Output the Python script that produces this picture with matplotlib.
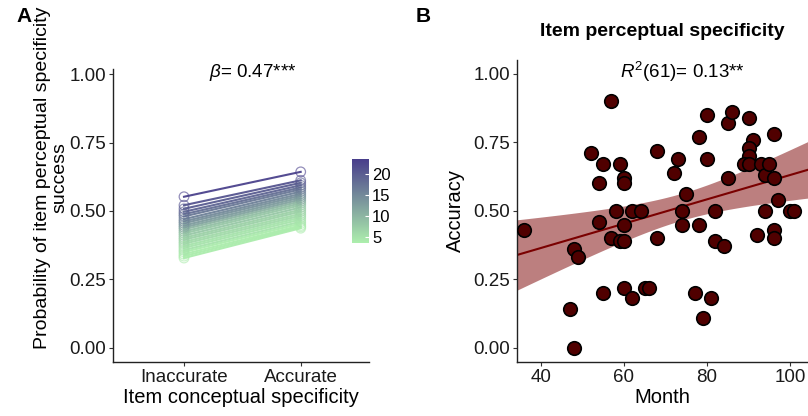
import numpy as np
import matplotlib
matplotlib.use('Agg')
import matplotlib.pyplot as plt
from matplotlib.colors import LinearSegmentedColormap, Normalize
from matplotlib.cm import ScalarMappable

plt.rcParams['font.family'] = ['Liberation Sans', 'DejaVu Sans']
plt.rcParams['mathtext.fontset'] = 'custom'
plt.rcParams['mathtext.rm'] = 'Liberation Sans'
plt.rcParams['mathtext.it'] = 'Liberation Sans:italic'

# --- panel A: predicted success per child, coloured by n ---
cond_labels = ['Inaccurate', 'Accurate']
p_inacc = [0.552, 0.521, 0.508, 0.497, 0.488, 0.480, 0.470, 0.462, 0.455,
           0.447, 0.440, 0.433, 0.425, 0.418, 0.410, 0.402, 0.395, 0.387,
           0.380, 0.372, 0.365, 0.357, 0.350, 0.342, 0.335, 0.328]
p_acc = [0.643, 0.612, 0.603, 0.594, 0.586, 0.579, 0.571, 0.563, 0.556,
         0.549, 0.542, 0.535, 0.528, 0.521, 0.513, 0.505, 0.498, 0.490,
         0.483, 0.476, 0.469, 0.461, 0.454, 0.447, 0.442, 0.437]
n_val = [23, 21, 20, 19, 18, 17, 16, 15, 14, 13, 12, 10, 9, 8, 8, 7, 7,
         6, 6, 5, 5, 5, 4, 4, 4, 4]

# --- panel B: accuracy by age ---
month = [36, 47, 48, 48, 49, 52, 54, 54, 55, 55, 57, 57, 58, 59, 59, 60, 60,
         60, 60, 60, 62, 62, 64, 65, 66, 68, 68, 72, 73, 74, 74, 75, 77, 78,
         78, 79, 80, 80, 81, 82, 82, 84, 85, 85, 86, 90, 91, 90, 90, 89, 90,
         92, 93, 94, 94, 95, 96, 96, 96, 96, 97, 100, 101]
accuracy = [0.43, 0.14, 0.00, 0.36, 0.33, 0.71, 0.60, 0.46, 0.67, 0.20, 0.90,
            0.40, 0.50, 0.67, 0.39, 0.62, 0.60, 0.45, 0.39, 0.22, 0.50, 0.18,
            0.50, 0.22, 0.22, 0.72, 0.40, 0.64, 0.69, 0.50, 0.45, 0.56, 0.20,
            0.77, 0.45, 0.11, 0.85, 0.69, 0.18, 0.50, 0.39, 0.37, 0.62, 0.82,
            0.86, 0.84, 0.76, 0.73, 0.70, 0.67, 0.67, 0.41, 0.67, 0.63, 0.50,
            0.67, 0.62, 0.78, 0.43, 0.40, 0.54, 0.50, 0.50]

W, H = 808, 416
fig = plt.figure(figsize=(W / 100, H / 100), dpi=100)

def box(x0, y0, x1, y1):
    return [x0 / W, 1 - y1 / H, (x1 - x0) / W, (y1 - y0) / H]

def style(ax):
    for s in ['top', 'right']:
        ax.spines[s].set_visible(False)
    for s in ['left', 'bottom']:
        ax.spines[s].set_linewidth(1.0)
        ax.spines[s].set_color('#222222')
    ax.tick_params(length=3, width=0.8, color='#333333', labelsize=13.5,
                   labelcolor='#1a1a1a', pad=2)

# panel A
cmap = LinearSegmentedColormap.from_list('grn_pur', ['#ADEFAD', '#483D8B'])
norm = Normalize(3.6, 23.6)
axA = fig.add_axes(box(113.3, 69, 369.3, 361.7))
order = np.argsort(n_val)
for i in order:
    c = cmap(norm(n_val[i]))
    axA.plot([1, 2], [p_inacc[i], p_acc[i]], color=c, lw=1.5, alpha=0.95,
             zorder=2)
    axA.scatter([1, 2], [p_inacc[i], p_acc[i]], s=48, facecolors='none',
                edgecolors=[c], linewidths=0.9, alpha=0.6, zorder=3)
axA.set_xlim(0.394, 2.588)
axA.set_ylim(-0.051, 1.019)
axA.set_xticks([1, 2])
axA.set_xticklabels(cond_labels)
axA.set_yticks([0, 0.25, 0.5, 0.75, 1.0])
axA.set_yticklabels(['0.00', '0.25', '0.50', '0.75', '1.00'])
style(axA)
axA.set_xlabel('Item conceptual specificity', fontsize=14.5, labelpad=2)
axA.text(1.59, 1.008, r'$\beta$= 0.47***', ha='center', va='center',
         fontsize=13.5)

cax = fig.add_axes(box(351.7, 159, 369.3, 243.3))
cb = fig.colorbar(ScalarMappable(norm=norm, cmap=cmap), cax=cax)
cb.outline.set_visible(False)
cb.set_ticks([5, 10, 15, 20])
cax.tick_params(length=3, width=0.8, color='white', direction='in',
                labelsize=12, pad=2)

fig.text(51 / W, 1 - 178 / H, 'Probability of item perceptual specificity\nsuccess',
         rotation=90, ha='center', va='center', multialignment='center',
         fontsize=14, linespacing=1.05)

# panel B
axB = fig.add_axes(box(516.7, 60, 808, 361.7))
x = np.array(month, float)
y = np.array(accuracy, float)
b1, b0 = np.polyfit(x, y, 1)
xs = np.linspace(34.2, 104.3, 200)
resid = y - (b0 + b1 * x)
s = np.sqrt((resid ** 2).sum() / (len(x) - 2))
se = s * np.sqrt(1 / len(x) + (xs - x.mean()) ** 2 / ((x - x.mean()) ** 2).sum())
fit = b0 + b1 * xs
axB.fill_between(xs, fit - 2.0 * se, fit + 2.0 * se, color='#7A0000',
                 alpha=0.5, lw=0, zorder=1)
axB.plot(xs, fit, color='#7A0000', lw=1.5, zorder=2)
axB.scatter(month, accuracy, s=95, facecolor='#500000', edgecolor='black',
            linewidths=1.2, zorder=3)
axB.set_xlim(34.2, 104.3)
axB.set_ylim(-0.051, 1.051)
axB.set_xticks([40, 60, 80, 100])
axB.set_yticks([0, 0.25, 0.5, 0.75, 1.0])
axB.set_yticklabels(['0.00', '0.25', '0.50', '0.75', '1.00'])
style(axB)
axB.set_xlabel('Month', fontsize=14.5, labelpad=2)
axB.set_ylabel('Accuracy', fontsize=14.5, labelpad=6)
axB.text(74.2, 1.008, r'$R^2$(61)= 0.13**', ha='center', va='center',
         fontsize=13.5)
fig.text(662 / W, 1 - 31 / H, 'Item perceptual specificity', ha='center',
         va='center', fontsize=14, fontweight='bold')

fig.text(24 / W, 1 - 17 / H, 'A', ha='center', va='center', fontsize=15,
         fontweight='bold')
fig.text(423 / W, 1 - 17 / H, 'B', ha='center', va='center', fontsize=15,
         fontweight='bold')

fig.savefig('out.png', dpi=100)
